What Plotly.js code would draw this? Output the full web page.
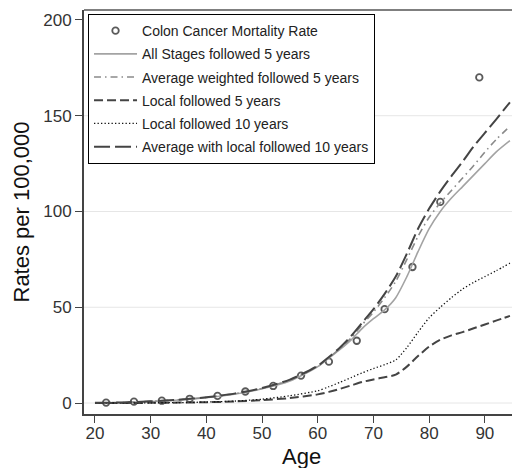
<!DOCTYPE html>
<html>
<head>
<meta charset="utf-8">
<script src="https://cdn.plot.ly/plotly-3.0.1.min.js"></script>
<style>
  html, body { margin: 0; padding: 0; background: #fff; }
  #chart { width: 512px; height: 468px; }
</style>
</head>
<body>
<div id="chart"></div>
<script>
// Observed colon cancer mortality (midpoints of 5-year age groups)
const obsAge = [22, 27, 32, 37, 42, 47, 52, 57, 62, 67, 72, 77, 82, 89];
const obsRate = [0.2, 0.7, 1.2, 2.2, 3.7, 6.0, 8.9, 14.3, 21.6, 32.5, 49, 71, 105, 170];

// Model ages shared by the fitted curves
const modelAge = [20, 25, 30, 35, 40, 45, 50, 55, 60, 62, 64, 66, 68, 70, 72, 74, 76, 78, 80, 82, 84, 86, 88, 90, 92, 94.5];

const allStages5  = [0.1, 0.3, 0.8, 1.6, 2.8, 4.6, 7.4, 11.5, 19, 23.5, 28, 33, 39, 44, 48.6, 55, 66, 79, 91, 100, 107, 113, 119, 125, 131, 137];
const avgWeighted5 = [0.1, 0.3, 0.9, 1.7, 2.9, 4.8, 7.6, 12, 19.2, 23.7, 28.5, 34, 41, 47.5, 55, 63.5, 75, 87, 97, 104.5, 111, 117.5, 124, 131, 137.5, 144.5];
const local5      = [0, 0, 0.1, 0.2, 0.4, 0.8, 1.5, 2.6, 4.5, 5.8, 7.4, 9.2, 11, 12.3, 13.5, 14.8, 19, 24.5, 29.5, 33, 35.3, 37, 39, 41, 43, 45.5];
const local10     = [0, 0, 0.1, 0.2, 0.5, 1, 2, 3.8, 6.4, 8.5, 10.8, 13.3, 15.8, 18, 20, 22.5, 29, 37, 44.5, 50, 55, 59.5, 63, 66, 69, 73];
const avgLocal10  = [0.1, 0.3, 0.9, 1.7, 3, 4.9, 7.8, 12.2, 19.5, 24, 29, 35, 42, 49, 57, 66, 78, 91, 101.5, 110.5, 118.5, 126, 134, 141, 148, 157];

// Axis ticks
const xTicks = [20, 30, 40, 50, 60, 70, 80, 90];
const yTicks = [0, 50, 100, 150, 200];
const yGrid = [0, 50, 100, 150];

const FONT = 'Liberation Sans, Arial, sans-serif';

function curve(name, y, color, width, dash, group) {
  return {
    type: 'scatter', mode: 'lines', name: name,
    x: modelAge, y: y, legendgroup: group,
    line: { color: color, width: width, dash: dash, shape: 'spline', smoothing: 0.7 }
  };
}

const traces = [
  {
    type: 'scatter', mode: 'markers', name: 'Colon Cancer Mortality Rate',
    x: obsAge, y: obsRate, legendgroup: 'g1',
    marker: { symbol: 'circle-open', size: 6.5, color: '#5a5a5a', line: { width: 1.8, color: '#5a5a5a' } }
  },
  curve('All Stages followed 5 years', allStages5, '#a3a3a3', 1.6, 'solid', 'g2'),
  curve('Average weighted followed 5 years', avgWeighted5, '#8a8a8a', 1.6, '7px,4px,1.5px,4px', 'g3'),
  curve('Local followed 5 years', local5, '#444444', 2, '9px,4px', 'g4'),
  curve('Local followed 10 years', local10, '#111111', 1.3, '1.3px,2.2px', 'g5'),
  curve('Average with local followed 10 years', avgLocal10, '#444444', 2, '16px,5px', 'g6')
];

const shapes = yGrid.map(v => ({
  type: 'line', xref: 'paper', yref: 'y', x0: 0, x1: 1, y0: v, y1: v,
  line: { color: '#e6e6e6', width: 1 }, layer: 'below'
}));
// frame line along the top of the plot region
shapes.push({
  type: 'line', xref: 'paper', yref: 'paper', x0: 0, x1: 1, y0: 1, y1: 1,
  line: { color: '#555555', width: 1.5 }
});

const layout = {
  width: 512, height: 468,
  margin: { l: 84, r: 0, t: 10, b: 54 },
  paper_bgcolor: '#ffffff', plot_bgcolor: '#ffffff',
  font: { family: FONT, color: '#333333' },
  showlegend: true,
  legend: {
    x: 0.0094, y: 0.99, xanchor: 'left', yanchor: 'top',
    bgcolor: '#ffffff', bordercolor: '#000000', borderwidth: 1,
    font: { family: FONT, size: 14, color: '#222222' },
    itemwidth: 43, tracegroupgap: 2
  },
  xaxis: {
    range: [18.03, 94.87], tickvals: xTicks, ticks: 'outside', ticklen: 7, tickwidth: 1,
    tickcolor: '#444444', showline: true, linecolor: '#444444', linewidth: 2,
    showgrid: false, zeroline: false, ticklabelstandoff: -4,
    tickfont: { family: FONT, size: 17, color: '#333333' }
  },
  yaxis: {
    range: [-5.74, 205.2], tickvals: yTicks, ticks: 'outside', ticklen: 7, tickwidth: 1,
    tickcolor: '#444444', showline: true, linecolor: '#444444', linewidth: 2,
    showgrid: false, zeroline: false,
    tickfont: { family: FONT, size: 17, color: '#333333' },
    title: { text: 'Rates per 100,000', font: { family: FONT, size: 22, color: '#111111' }, standoff: 8 }
  },
  annotations: [{
    // x-axis title, set just below the tick labels
    text: 'Age', xref: 'paper', yref: 'paper', x: 0.509, y: -0.106,
    xanchor: 'center', yanchor: 'middle', showarrow: false,
    font: { family: FONT, size: 22, color: '#111111' }
  }],
  shapes: shapes
};

Plotly.newPlot('chart', traces, layout, { displayModeBar: false, staticPlot: true });
</script>
</body>
</html>
